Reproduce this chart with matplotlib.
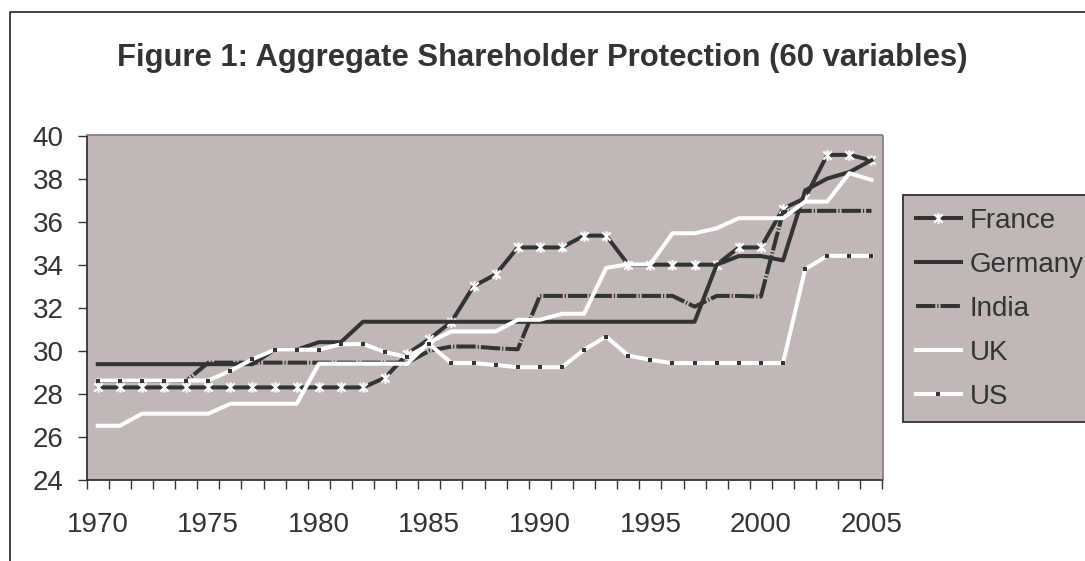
import numpy as np
import matplotlib
matplotlib.use("Agg")
import matplotlib.pyplot as plt
from matplotlib.path import Path
from matplotlib.lines import Line2D

plt.rcParams['font.family'] = ['Liberation Sans', 'DejaVu Sans']

BG    = '#C0B8B6'   # plot + legend fill
DARK  = '#333333'
TXT   = '#333333'

years = list(range(1970, 2006))
france  = [28.3] * 13 + [28.75, 29.85, 30.55, 31.35, 33.0, 33.55, 34.8, 34.8, 34.8,
                         35.35, 35.35, 34.0, 34.0, 34.0, 34.0, 34.0, 34.8, 34.8,
                         36.6, 37.1, 39.1, 39.1, 38.85]
germany = [29.38] * 8 + [30.05, 30.05, 30.4, 30.4] + [31.35] * 16 + \
          [34.0, 34.4, 34.4, 34.2, 37.45, 38.0, 38.3, 38.85]
india   = [28.6] * 5 + [29.45] * 10 + [30.0, 30.2, 30.2, 30.12, 30.07] + [32.55] * 7 + \
          [32.05, 32.55, 32.55, 32.52, 36.45, 36.5, 36.5, 36.5, 36.5]
uk      = [26.52, 26.52, 27.08, 27.08, 27.08, 27.08, 27.54, 27.54, 27.54, 27.54,
           29.4, 29.4, 29.4, 29.4, 29.4, 30.4, 30.9, 30.9, 30.9, 31.44, 31.44,
           31.72, 31.72, 33.85, 34.02, 34.02, 35.46, 35.46, 35.69, 36.16, 36.16,
           36.16, 36.93, 36.93, 38.25, 37.94]
us      = [28.62] * 6 + [29.07, 29.61, 30.05, 30.05, 30.05, 30.3, 30.32, 29.94, 29.71,
                         30.31, 29.43, 29.43, 29.34, 29.24, 29.24, 29.24, 30.05, 30.66,
                         29.78, 29.58] + [29.43] * 6 + [33.79, 34.41, 34.41, 34.41]
series_names = ['France', 'Germany', 'India', 'UK', 'US']
y_ticks = list(range(24, 41, 2))

# excel-style asterisk: an x with a vertical bar
star = Path([(-1, -1), (1, 1), (-1, 1), (1, -1), (0, -1.25), (0, 1.25)],
            [Path.MOVETO, Path.LINETO, Path.MOVETO, Path.LINETO, Path.MOVETO, Path.LINETO])

W, H = 1085, 561
fig = plt.figure(figsize=(W / 100, H / 100), dpi=100)
ax = fig.add_axes([86.7 / W, 1 - 480 / H, (882.5 - 86.7) / W, (480 - 135.5) / H])
ax.set_facecolor(BG)

x = np.arange(len(years))
lw = 2.9
h_fr, = ax.plot(x, france, color=DARK, lw=lw, marker=star, ms=7.5, mec='white', mew=1.6)
h_de, = ax.plot(x, germany, color=DARK, lw=lw)
h_in, = ax.plot(x, india, color=DARK, lw=lw, ls=(0, (4.8, 0.5, 0.3, 0.5)))
h_uk, = ax.plot(x, uk, color='white', lw=lw)
h_us, = ax.plot(x, us, color='white', lw=lw, marker='s', ms=3.0, mfc=DARK, mec=DARK, mew=0)

ax.set_xlim(-0.5, len(years) - 0.5)
ax.set_ylim(24, 40)
ax.set_yticks(y_ticks)
ax.set_yticklabels([str(v) for v in y_ticks])
ax.set_xticks(x[::5])
ax.set_xticklabels([str(y) for y in years[::5]])
ax.set_xticks(np.arange(-0.5, len(years), 1), minor=True)
ax.tick_params(axis='x', which='major', length=0, pad=23, labelsize=20, labelcolor=TXT)
ax.tick_params(axis='x', which='minor', length=6.5, width=1.0, color=DARK, direction='out')
ax.tick_params(axis='y', length=6.5, width=1.0, color=DARK, pad=10, labelsize=20,
               labelcolor=TXT, direction='out')
for side in ('left', 'bottom'):
    ax.spines[side].set_color(DARK); ax.spines[side].set_linewidth(1.3)
for side in ('top', 'right'):
    ax.spines[side].set_color('#8A8280'); ax.spines[side].set_linewidth(1.3)

fig.text(0.5, 1 - 58 / H, 'Figure 1: Aggregate Shareholder Protection (60 variables)',
         ha='center', va='center', fontsize=22.3, fontweight='bold', color=TXT)

leg = fig.legend([h_fr, h_de, h_in, h_uk, h_us], series_names, loc='upper left',
                 bbox_to_anchor=(903 / W, 1 - 195 / H), fontsize=20, frameon=True,
                 fancybox=False, facecolor=BG, edgecolor=DARK, framealpha=1,
                 handlelength=1.65, handletextpad=0.29, borderpad=0.45,
                 labelspacing=0.65, borderaxespad=0, numpoints=1)
leg.get_frame().set_linewidth(1.3)
for t in leg.get_texts():
    t.set_color(TXT)

# outer chart border (top and left edges visible in the crop)
fig.add_artist(Line2D([10 / W, 10 / W, 1.0], [0.0, 1 - 12 / H, 1 - 12 / H],
                      transform=fig.transFigure, color=DARK, lw=1.3))

fig.savefig('out.png', dpi=100)
